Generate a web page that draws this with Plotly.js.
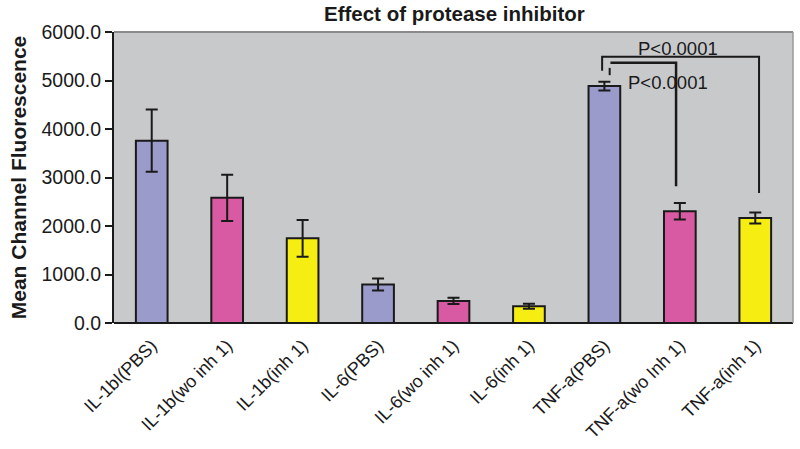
<!DOCTYPE html>
<html><head><meta charset="utf-8">
<script src="https://cdn.plot.ly/plotly-3.0.1.min.js"></script>
<style>body{margin:0;background:#fff}#c{width:800px;height:449px}</style>
</head><body><div id="c"></div>
<script>
const categories = ["IL-1bI(PBS)","IL-1b(wo inh 1)","IL-1b(inh 1)","IL-6(PBS)","IL-6(wo inh 1)","IL-6(inh 1)","TNF-a(PBS)","TNF-a(wo Inh 1)","TNF-a(inh 1)"];
const values = [3760, 2580, 1745, 795, 455, 345, 4885, 2305, 2165];
const errors = [640, 475, 380, 125, 65, 50, 90, 170, 112];
const barColors = ["#9a9acb","#d85aa2","#f6ee12","#9a9acb","#d85aa2","#f6ee12","#9a9acb","#d85aa2","#f6ee12"];
const yTicks = [0,1000,2000,3000,4000,5000,6000];
const pLabel = "P<0.0001";

const trace = {
  type:'bar', x: categories.map((c,i)=>i), y: values,
  marker:{color:barColors, line:{color:'#1a1a1a', width:2}},
  width:0.42,
  error_y:{type:'data', array:errors, visible:true, color:'#1a1a1a', thickness:2, width:6},
  hoverinfo:'none'
};
const L = {color:'#1a1a1a', width:2};
const layout = {
  width:800, height:449,
  margin:{l:114, r:7, t:32, b:126},
  paper_bgcolor:'#ffffff', plot_bgcolor:'#c8c9cb',
  showlegend:false,
  font:{family:'Liberation Sans, Arial, sans-serif', color:'#1a1a1a'},
  title:{text:'<b>Effect of protease inhibitor</b>', x:0.568, xanchor:'center', y:0.97, yanchor:'middle', font:{size:20.5, color:'#1a1a1a'}},
  xaxis:{tickmode:'array', tickvals:categories.map((c,i)=>i), ticktext:categories, range:[-0.5,8.5],
    tickangle:-45, tickfont:{size:18}, showgrid:false, zeroline:false, showline:false,
    ticks:'outside', ticklen:4, tickcolor:'rgba(0,0,0,0)'},
  yaxis:{range:[0,6000], tickvals:yTicks, ticktext:yTicks.map(v=>v.toFixed(1)), tickfont:{size:19.5},
    showgrid:false, zeroline:false, showline:true, linecolor:'#1a1a1a', linewidth:2, ticks:'outside', ticklen:7, tickcolor:'#1a1a1a', tickwidth:2,
    title:{text:'<b>Mean Channel Fluorescence</b>', font:{size:21}, standoff:9}},
  shapes:[
    {type:'line', xref:'paper', yref:'paper', x0:0, x1:1, y0:0, y1:0, line:{color:'#1a1a1a', width:2}},
    {type:'line', xref:'paper', yref:'paper', x0:0, x1:1, y0:1, y1:1, line:{color:'#8a8a8a', width:2}},
    {type:'line', xref:'paper', yref:'paper', x0:1, x1:1, y0:0, y1:1, line:{color:'#9a9a9a', width:1.5}},
    {type:'path', xref:'x', yref:'y', path:'M 5.97 5200 L 5.97 5490 L 8.05 5490 L 8.05 2680', line:L},
    {type:'path', xref:'x', yref:'y', path:'M 6.08 5366 L 6.95 5366 L 6.95 2820', line:{color:'#1a1a1a', width:2.5}},
    {type:'line', xref:'x', yref:'y', x0:6.07, x1:6.07, y0:5110, y1:5260, line:L}
  ],
  annotations:[
    {xref:'x', yref:'y', x:6.97, y:5655, text:pLabel, showarrow:false, font:{size:18.5}},
    {xref:'x', yref:'y', x:6.84, y:4950, text:pLabel, showarrow:false, font:{size:18.5}}
  ]
};
Plotly.newPlot('c',[trace],layout,{staticPlot:true});
</script></body></html>
